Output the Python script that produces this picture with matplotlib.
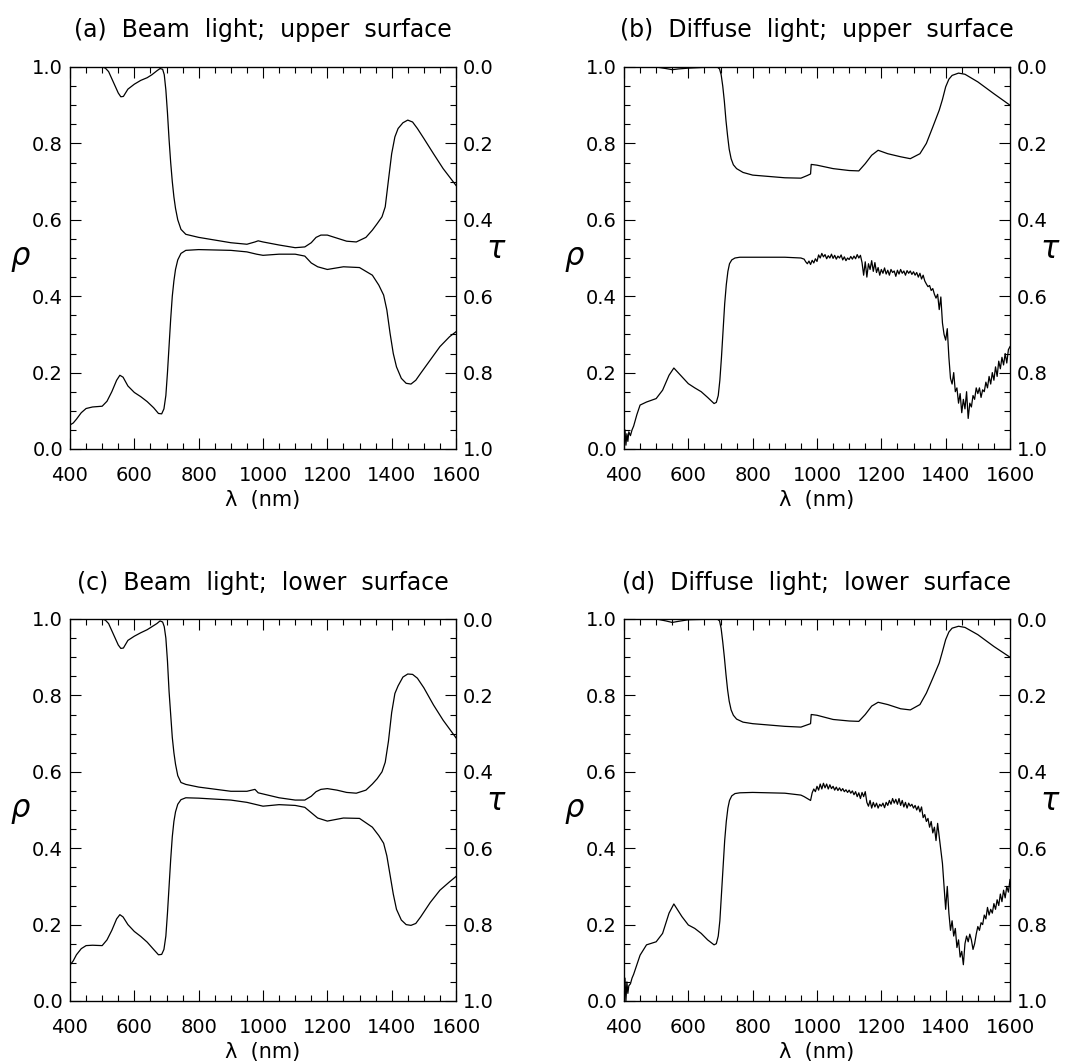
import matplotlib
matplotlib.use("Agg")
import matplotlib.pyplot as plt
from matplotlib.ticker import MultipleLocator, FormatStrFormatter

# ---------------- data ----------------
# beam-light reflectance wavelengths (nm)
beam_rho_wl = [400, 410, 420, 435, 450, 470, 500, 515, 530, 545, 555, 565, 580, 600, 620,
               640, 660, 675, 685, 692, 698, 703, 708, 713, 718, 723, 728, 735, 745, 760,
               800, 900, 950, 980, 1000, 1050, 1100, 1130, 1150, 1170, 1200, 1250, 1300,
               1340, 1360, 1375, 1385, 1395, 1405, 1415, 1430, 1445, 1460, 1475, 1490,
               1520, 1550, 1580, 1600]
a_rho = [0.063, 0.068, 0.078, 0.095, 0.106, 0.110, 0.112, 0.125, 0.150, 0.180, 0.193,
         0.188, 0.165, 0.148, 0.137, 0.124, 0.108, 0.093, 0.092, 0.105, 0.140, 0.200,
         0.270, 0.340, 0.400, 0.440, 0.470, 0.495, 0.512, 0.520, 0.522, 0.520, 0.516,
         0.510, 0.507, 0.510, 0.510, 0.505, 0.487, 0.477, 0.470, 0.477, 0.475, 0.455,
         0.429, 0.403, 0.364, 0.303, 0.250, 0.215, 0.185, 0.172, 0.170, 0.180, 0.198,
         0.233, 0.268, 0.294, 0.307]
c_rho = [0.094, 0.105, 0.121, 0.137, 0.145, 0.146, 0.145, 0.160, 0.185, 0.215, 0.226,
         0.220, 0.200, 0.182, 0.169, 0.154, 0.135, 0.121, 0.122, 0.135, 0.170, 0.230,
         0.300, 0.370, 0.430, 0.470, 0.495, 0.515, 0.527, 0.532, 0.531, 0.526, 0.520,
         0.514, 0.510, 0.514, 0.512, 0.507, 0.493, 0.479, 0.471, 0.479, 0.478, 0.455,
         0.433, 0.413, 0.380, 0.330, 0.280, 0.240, 0.212, 0.200, 0.198, 0.203, 0.220,
         0.258, 0.290, 0.312, 0.326]

# beam-light transmittance wavelengths (nm)
beam_tau_wl = [400, 500, 510, 520, 535, 550, 558, 566, 580, 600, 620, 640, 655, 670, 680,
               688, 693, 698, 703, 708, 713, 718, 723, 728, 735, 745, 760, 800, 900, 950,
               975, 985, 1000, 1050, 1100, 1130, 1150, 1165, 1180, 1200, 1230, 1260, 1290,
               1320, 1340, 1355, 1370, 1380, 1390, 1400, 1410, 1420, 1435, 1450, 1465,
               1480, 1500, 1530, 1560, 1600]
a_tau = [0.0, 0.0, 0.003, 0.012, 0.040, 0.068, 0.078, 0.077, 0.058, 0.045, 0.035, 0.028,
         0.020, 0.010, 0.004, 0.006, 0.020, 0.060, 0.120, 0.190, 0.250, 0.300, 0.340,
         0.370, 0.400, 0.425, 0.438, 0.446, 0.460, 0.464, 0.458, 0.455, 0.458, 0.466,
         0.473, 0.471, 0.460, 0.446, 0.440, 0.440, 0.448, 0.456, 0.458, 0.446, 0.427,
         0.410, 0.392, 0.366, 0.296, 0.227, 0.183, 0.161, 0.146, 0.139, 0.144, 0.161,
         0.187, 0.227, 0.266, 0.310]
c_tau = [0.0, 0.0, 0.003, 0.012, 0.040, 0.068, 0.077, 0.076, 0.056, 0.045, 0.036, 0.028,
         0.020, 0.012, 0.005, 0.008, 0.020, 0.050, 0.110, 0.190, 0.250, 0.310, 0.350,
         0.380, 0.410, 0.428, 0.433, 0.440, 0.451, 0.451, 0.446, 0.455, 0.458, 0.468,
         0.474, 0.474, 0.464, 0.452, 0.446, 0.444, 0.448, 0.454, 0.456, 0.448, 0.432,
         0.418, 0.400, 0.375, 0.320, 0.245, 0.195, 0.175, 0.152, 0.144, 0.145, 0.155,
         0.180, 0.225, 0.265, 0.311]

# diffuse-light transmittance
diff_tau_wl = [400, 450, 500, 530, 550, 570, 600, 650, 690, 697, 702, 707, 712, 717, 722,
               727, 733, 740, 750, 770, 800, 900, 950, 970, 980, 982, 1000, 1050, 1100,
               1130, 1150, 1170, 1190, 1220, 1260, 1290, 1320, 1340, 1360, 1380, 1390,
               1400, 1410, 1420, 1440, 1460, 1500, 1550, 1600]
b_tau = [0.0, 0.0, 0.0, 0.004, 0.007, 0.005, 0.003, 0.001, 0.0, 0.005, 0.020, 0.050,
         0.090, 0.140, 0.180, 0.215, 0.240, 0.256, 0.266, 0.276, 0.283, 0.290, 0.291,
         0.284, 0.280, 0.255, 0.257, 0.266, 0.271, 0.272, 0.253, 0.231, 0.218, 0.227,
         0.235, 0.240, 0.227, 0.200, 0.157, 0.113, 0.085, 0.052, 0.032, 0.022, 0.016,
         0.019, 0.039, 0.070, 0.100]
d_tau = [0.0, 0.0, 0.0, 0.005, 0.009, 0.006, 0.002, 0.001, 0.0, 0.005, 0.025, 0.060,
         0.100, 0.145, 0.185, 0.215, 0.238, 0.252, 0.262, 0.270, 0.274, 0.281, 0.283,
         0.277, 0.274, 0.250, 0.252, 0.263, 0.267, 0.268, 0.250, 0.228, 0.218, 0.224,
         0.235, 0.238, 0.224, 0.194, 0.155, 0.115, 0.085, 0.054, 0.034, 0.024, 0.019,
         0.022, 0.041, 0.072, 0.100]

# diffuse-light reflectance (noisy beyond ~960 nm)
b_rho_wl = [400, 403, 406, 409, 412, 415, 420, 425, 430, 440, 450, 470, 500, 520, 540,
            555, 580, 600, 620, 640, 660, 680, 687, 693, 698, 703, 708, 713, 718, 723,
            728, 735, 745, 760, 800, 900, 950] + list(range(960, 1601, 5))
b_rho = [0.0, 0.05, 0.01, 0.04, 0.02, 0.045, 0.035, 0.05, 0.06, 0.09, 0.115, 0.123,
         0.132, 0.154, 0.193, 0.212, 0.189, 0.171, 0.160, 0.150, 0.135, 0.119, 0.122,
         0.140, 0.180, 0.240, 0.310, 0.380, 0.430, 0.465, 0.485, 0.495, 0.500, 0.502,
         0.502, 0.502, 0.500,
         0.497, 0.490, 0.485, 0.492, 0.483, 0.494, 0.487, 0.498, 0.491, 0.508, 0.500,
         0.512, 0.503, 0.509, 0.498, 0.506, 0.500, 0.510, 0.499, 0.507, 0.497, 0.505,
         0.500, 0.508, 0.495, 0.503, 0.493, 0.500, 0.496, 0.504, 0.497, 0.505, 0.498,
         0.509, 0.500, 0.507, 0.488, 0.455, 0.490, 0.450, 0.485, 0.470, 0.493, 0.465,
         0.488, 0.462, 0.475, 0.455, 0.470, 0.460, 0.474, 0.458, 0.468, 0.455, 0.470,
         0.462, 0.466, 0.452, 0.468, 0.458, 0.470, 0.460, 0.466, 0.455, 0.467, 0.460,
         0.466, 0.457, 0.464, 0.455, 0.462, 0.450, 0.460, 0.445, 0.455, 0.440, 0.432,
         0.425, 0.428, 0.415, 0.420, 0.405, 0.395, 0.405, 0.365, 0.398, 0.330, 0.300,
         0.285, 0.315, 0.240, 0.185, 0.170, 0.200, 0.150, 0.160, 0.120, 0.145, 0.095,
         0.130, 0.105, 0.150, 0.080, 0.120, 0.110, 0.140, 0.130, 0.160, 0.145, 0.160,
         0.135, 0.155, 0.150, 0.175, 0.160, 0.190, 0.170, 0.200, 0.180, 0.215, 0.190,
         0.230, 0.210, 0.240, 0.220, 0.250, 0.225, 0.260, 0.268]

d_rho_wl = [400, 403, 406, 409, 412, 415, 420, 425, 430, 440, 450, 470, 500, 520, 540,
            555, 580, 600, 620, 640, 660, 680, 687, 693, 698, 703, 708, 713, 718, 723,
            728, 735, 745, 760, 800, 900, 950, 960, 970, 980] + list(range(985, 1601, 5))
d_rho = [0.01, 0.06, 0.0, 0.05, 0.02, 0.04, 0.045, 0.06, 0.07, 0.095, 0.12, 0.147,
         0.155, 0.177, 0.230, 0.254, 0.221, 0.199, 0.190, 0.177, 0.160, 0.147, 0.150,
         0.170, 0.210, 0.280, 0.350, 0.420, 0.470, 0.505, 0.525, 0.537, 0.543, 0.545,
         0.546, 0.544, 0.539, 0.535, 0.530, 0.525,
         0.545, 0.555, 0.548, 0.562, 0.552, 0.568, 0.555, 0.570, 0.558, 0.568, 0.555,
         0.566, 0.556, 0.562, 0.552, 0.560, 0.551, 0.558, 0.550, 0.556, 0.548, 0.553,
         0.546, 0.552, 0.544, 0.550, 0.540, 0.548, 0.535, 0.545, 0.530, 0.546, 0.535,
         0.548, 0.520, 0.510, 0.525, 0.505, 0.520, 0.508, 0.518, 0.505, 0.515, 0.510,
         0.518, 0.506, 0.520, 0.512, 0.525, 0.515, 0.530, 0.518, 0.528, 0.515, 0.530,
         0.512, 0.525, 0.508, 0.520, 0.505, 0.518, 0.510, 0.515, 0.505, 0.512, 0.500,
         0.510, 0.495, 0.508, 0.480, 0.488, 0.470, 0.478, 0.455, 0.470, 0.440, 0.455,
         0.420, 0.465, 0.430, 0.395, 0.360, 0.300, 0.240, 0.300, 0.230, 0.185, 0.210,
         0.170, 0.190, 0.140, 0.160, 0.115, 0.130, 0.095, 0.150, 0.170, 0.155, 0.175,
         0.160, 0.135, 0.150, 0.175, 0.195, 0.185, 0.205, 0.200, 0.225, 0.215, 0.245,
         0.225, 0.240, 0.230, 0.255, 0.240, 0.265, 0.250, 0.280, 0.260, 0.290, 0.270,
         0.300, 0.285, 0.318]

titles = ["(a)  Beam  light;  upper  surface", "(b)  Diffuse  light;  upper  surface",
          "(c)  Beam  light;  lower  surface", "(d)  Diffuse  light;  lower  surface"]
xticks = [400, 600, 800, 1000, 1200, 1400, 1600]

panels = [
    (beam_rho_wl, a_rho, beam_tau_wl, a_tau),
    (b_rho_wl, b_rho, diff_tau_wl, b_tau),
    (beam_rho_wl, c_rho, beam_tau_wl, c_tau),
    (d_rho_wl, d_rho, diff_tau_wl, d_tau),
]

# ---------------- figure ----------------
W, H = 1077, 1063
fig = plt.figure(figsize=(W / 100, H / 100), dpi=100)
plt.rcParams['font.family'] = ['DejaVu Sans']

# axes boxes in pixels: left, top, right, bottom
boxes = [(70, 67, 456, 449), (624, 67, 1010, 449),
         (70, 619, 456, 1001), (624, 619, 1010, 1001)]
title_y = [30, 30, 583, 583]

fs = 14
for i, (box, (xr, yr, xt, yt)) in enumerate(zip(boxes, panels)):
    l, t, r, b = box
    ax = fig.add_axes([l / W, 1 - b / H, (r - l) / W, (b - t) / H])
    ax.plot(xr, yr, color='black', lw=0.9)
    ax.set_xlim(400, 1600)
    ax.set_ylim(0, 1)
    ax.set_xticks(xticks)
    ax.xaxis.set_minor_locator(MultipleLocator(50))
    ax.yaxis.set_major_locator(MultipleLocator(0.2))
    ax.yaxis.set_minor_locator(MultipleLocator(0.05))
    ax.yaxis.set_major_formatter(FormatStrFormatter('%.1f'))
    ax.tick_params(which='both', direction='in', top=True, right=False, width=0.8,
                   labelsize=fs, color='black')
    ax.tick_params(which='major', length=8)
    ax.tick_params(which='minor', length=4)
    ax.tick_params(axis='x', pad=12)
    ax.tick_params(axis='y', pad=5)
    for sp in ax.spines.values():
        sp.set_linewidth(0.9)

    ax2 = ax.twinx()
    ax2.plot(xt, yt, color='black', lw=0.9)
    ax2.set_ylim(1, 0)
    ax2.yaxis.set_major_locator(MultipleLocator(0.2))
    ax2.yaxis.set_minor_locator(MultipleLocator(0.05))
    ax2.yaxis.set_major_formatter(FormatStrFormatter('%.1f'))
    ax2.tick_params(which='both', direction='in', width=0.8, labelsize=fs)
    ax2.tick_params(which='major', length=8)
    ax2.tick_params(which='minor', length=4)
    ax2.tick_params(axis='y', pad=5)

    cx = (l + r) / 2
    fig.text(cx / W, 1 - title_y[i] / H, titles[i], ha='center', va='center',
             fontsize=17)
    fig.text(cx / W, 1 - (b + 51) / H, "λ  (nm)", ha='center', va='center',
             fontsize=15)
    fig.text((l - 50) / W, 1 - ((t + b) / 2) / H, "ρ", ha='center', va='center',
             fontsize=22, style='italic')
    fig.text((r + 40) / W, 1 - ((t + b) / 2 - 8) / H, "τ", ha='center', va='center',
             fontsize=22, style='italic')

fig.savefig("out.png", dpi=100)
